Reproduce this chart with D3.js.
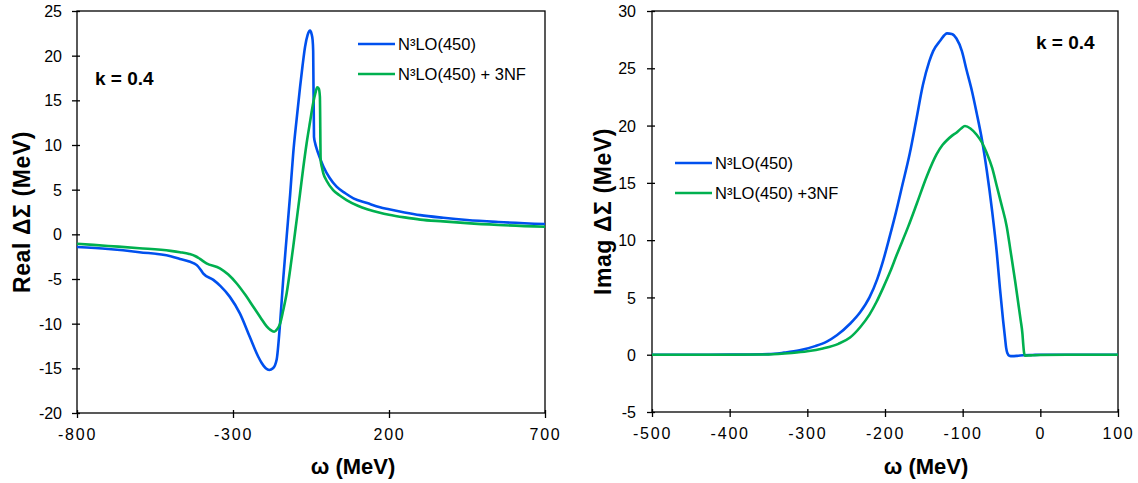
<!DOCTYPE html>
<html>
<head>
<meta charset="utf-8">
<script src="https://cdn.jsdelivr.net/npm/d3@7"></script>
<style>
  html, body { margin: 0; padding: 0; background: #fff; }
  svg { display: block; font-family: "Liberation Sans", Arial, sans-serif; }
</style>
</head>
<body>
<svg id="chart" width="1138" height="483"></svg>
<script>
// ---- Real part of the self-energy difference, k = 0.4 ----
const realOmega = [-800, -700, -600, -500, -470, -440, -416, -405, -395, -363, -340, -310, -278, -246, -219, -208, -195, -184, -172, -160, -149, -139, -128, -117, -107, -96, -85, -77, -69, -61, -53, -48, -45, -43, -40.4, -36, -32, -22, -10, 10, 32, 60, 86, 130, 171, 200, 250, 300, 374, 450, 550, 700];
const realBlue = [-1.42, -1.65, -2.0, -2.45, -2.75, -3.05, -3.45, -3.9, -4.4, -5.1, -5.8, -7.0, -8.85, -11.5, -13.7, -14.4, -15.0, -15.19, -15.0, -14.0, -9.9, -5.0, -0.27, 4.4, 9.07, 12.9, 16.5, 18.9, 21.0, 22.3, 22.8, 22.4, 21.8, 20.5, 10.9, 10.1, 9.6, 8.6, 7.57, 6.3, 5.33, 4.6, 4.03, 3.5, 3.02, 2.8, 2.45, 2.15, 1.85, 1.6, 1.38, 1.15];

const realOmega3NF = [-800, -700, -600, -500, -470, -440, -420, -406, -385, -342, -315, -288, -260, -235, -212, -192, -180, -168, -158, -149, -139, -128, -117, -107, -96, -85, -75, -64, -53, -43, -36, -30, -25, -21.5, -19, -15, -10.5, 0, 21, 40, 64, 100, 171, 200, 250, 300, 374, 450, 550, 700];
const real3NF = [-1.05, -1.3, -1.55, -1.85, -2.0, -2.2, -2.45, -2.75, -3.25, -3.8, -4.5, -5.5, -6.8, -8.1, -9.3, -10.3, -10.7, -10.9, -10.6, -10.0, -8.5, -6.6, -4.0, -1.4, 1.6, 4.6, 7.4, 10.2, 12.6, 14.7, 15.8, 16.45, 16.3, 15.4, 8.3, 7.5, 6.83, 6.0, 4.96, 4.4, 3.84, 3.2, 2.42, 2.2, 1.9, 1.65, 1.45, 1.25, 1.05, 0.85];

// ---- Imaginary part of the self-energy difference, k = 0.4 ----
const imagOmega = [-500, -450, -400, -350, -330, -310, -290, -275, -262, -245, -232, -220, -210, -202, -194, -186, -178, -168, -160, -151, -143, -138, -129, -120, -114, -108, -101, -95, -88, -82, -75, -69, -62, -56, -52, -48, -45.5, -44, -42.5, -40, -36, -30, -22, -10, 0, 50, 100];
const imagBlue = [0, 0, 0.01, 0.05, 0.18, 0.38, 0.75, 1.15, 1.7, 2.7, 3.7, 5.0, 6.6, 8.3, 10.3, 12.4, 14.7, 17.6, 20.4, 23.6, 25.6, 26.5, 27.4, 28.05, 28.0, 27.6, 26.5, 24.85, 23.0, 21.1, 18.7, 16.1, 12.5, 8.85, 5.8, 3.03, 1.5, 0.6, 0.15, -0.08, -0.12, -0.1, -0.05, -0.02, 0, 0, 0];

const imagOmega3NF = [-500, -450, -400, -350, -320, -300, -280, -260, -245, -232, -220, -211, -202, -193, -185, -170, -159, -146, -133.5, -126, -120.6, -114, -107.7, -102, -97, -90, -82, -75, -69, -62, -56, -50, -43.3, -38, -32.6, -28, -25.3, -23, -22, -21, -20, -15, -10, 0, 50, 100];
const imag3NF = [0, 0, 0, 0.02, 0.15, 0.3, 0.55, 0.95, 1.5, 2.4, 3.5, 4.6, 5.9, 7.3, 8.7, 11.2, 13.2, 15.6, 17.5, 18.3, 18.7, 19.1, 19.4, 19.75, 19.96, 19.75, 19.2, 18.5, 17.6, 16.3, 14.7, 13.1, 11.2, 8.9, 6.5, 4.3, 3.0, 1.8, 0.9, 0.2, -0.08, -0.07, -0.05, -0.02, 0, 0];

// ---- Axis ticks ----
const realXTicks = [-800, -300, 200, 700];
const realYTicks = [-20, -15, -10, -5, 0, 5, 10, 15, 20, 25];
const imagXTicks = [-500, -400, -300, -200, -100, 0, 100];
const imagYTicks = [-5, 0, 5, 10, 15, 20, 25, 30];

// ---- Series labels ----
const seriesNames = ["N³LO(450)", "N³LO(450) + 3NF"];
const seriesNamesImag = ["N³LO(450)", "N³LO(450) +3NF"];
const seriesColors = ["#0050EE", "#00B04F"];

const svg = d3.select("#chart");
const plainNumber = d => String(d);   // ASCII hyphen for negatives

function drawPanel(cfg) {
  const g = svg.append("g");
  const x = d3.scaleLinear().domain(cfg.xDomain).range([cfg.left, cfg.right]);
  const y = d3.scaleLinear().domain(cfg.yDomain).range([cfg.bottom, cfg.top]);

  // frame
  g.append("rect")
    .attr("x", cfg.left).attr("y", cfg.top)
    .attr("width", cfg.right - cfg.left).attr("height", cfg.bottom - cfg.top)
    .attr("fill", "none").attr("stroke", "#000").attr("stroke-width", 1.3);

  // x axis ticks + labels
  const xAxis = d3.axisBottom(x).tickValues(cfg.xTicks).tickFormat(plainNumber).tickSize(0).tickPadding(0);
  const gx = g.append("g").attr("transform", `translate(0,${cfg.bottom})`).call(xAxis);
  gx.select(".domain").remove();
  gx.selectAll(".tick line").remove();
  gx.selectAll(".tick").append("line")
    .attr("y1", -3).attr("y2", 5).attr("stroke", "#000").attr("stroke-width", 1.3);
  gx.selectAll(".tick text")
    .attr("y", 27).attr("dy", null)
    .attr("font-size", 16).attr("letter-spacing", "1.8px")
    .attr("fill", "#000").attr("font-family", "Liberation Sans, Arial, sans-serif");

  // y axis ticks + labels
  const yAxis = d3.axisLeft(y).tickValues(cfg.yTicks).tickFormat(plainNumber).tickSize(0).tickPadding(0);
  const gy = g.append("g").attr("transform", `translate(${cfg.left},0)`).call(yAxis);
  gy.select(".domain").remove();
  gy.selectAll(".tick line").remove();
  gy.selectAll(".tick").append("line")
    .attr("x1", -5).attr("x2", 3).attr("stroke", "#000").attr("stroke-width", 1.3);
  gy.selectAll(".tick text")
    .attr("x", -cfg.yLabelGap).attr("dy", "0.35em")
    .attr("font-size", 16).attr("fill", "#000")
    .attr("font-family", "Liberation Sans, Arial, sans-serif");

  // axis titles
  g.append("text")
    .attr("x", cfg.xTitleX).attr("y", 474)
    .attr("text-anchor", "middle").attr("font-weight", "bold").attr("font-size", 22)
    .text("ω (MeV)");
  g.append("text")
    .attr("transform", `translate(${cfg.yTitleX},${(cfg.top + cfg.bottom) / 2}) rotate(-90)`)
    .attr("text-anchor", "middle").attr("font-weight", "bold").attr("font-size", 23)
    .attr("letter-spacing", "0.6px")
    .text(cfg.yTitle);

  // curves
  const line = d3.line()
    .x(d => x(d[0])).y(d => y(d[1]))
    .curve(d3.curveMonotoneX);
  cfg.series.forEach((s, i) => {
    g.append("path")
      .datum(d3.zip(s.omega, s.values))
      .attr("fill", "none").attr("stroke", seriesColors[i])
      .attr("stroke-width", 2.6).attr("stroke-linejoin", "round")
      .attr("d", line);
  });

  // legend
  cfg.legendNames.forEach((name, i) => {
    const ly = cfg.legendY + i * 30;
    g.append("line")
      .attr("x1", cfg.legendX).attr("x2", cfg.legendX + 37)
      .attr("y1", ly).attr("y2", ly)
      .attr("stroke", seriesColors[i]).attr("stroke-width", 2.6);
    g.append("text")
      .attr("x", cfg.legendX + 40).attr("y", ly).attr("dy", "0.35em")
      .attr("font-size", 16.5).attr("fill", "#000")
      .text(name);
  });

  // k label
  g.append("text")
    .attr("x", cfg.kX).attr("y", cfg.kY)
    .attr("font-weight", "bold").attr("font-size", 19).attr("fill", "#000")
    .text("k = 0.4");
}

drawPanel({
  left: 77, right: 545, top: 11, bottom: 413,
  xDomain: [-800, 700], yDomain: [-20, 25],
  xTicks: realXTicks, yTicks: realYTicks, yLabelGap: 15,
  xTitleX: 353, yTitleX: 30, yTitle: "Real ΔΣ (MeV)",
  series: [{omega: realOmega, values: realBlue}, {omega: realOmega3NF, values: real3NF}],
  legendNames: seriesNames, legendX: 358, legendY: 44,
  kX: 95, kY: 85
});

drawPanel({
  left: 652, right: 1118, top: 11, bottom: 412,
  xDomain: [-500, 100], yDomain: [-5, 30],
  xTicks: imagXTicks, yTicks: imagYTicks, yLabelGap: 16,
  xTitleX: 926, yTitleX: 611, yTitle: "Imag ΔΣ (MeV)",
  series: [{omega: imagOmega, values: imagBlue}, {omega: imagOmega3NF, values: imag3NF}],
  legendNames: seriesNamesImag, legendX: 675, legendY: 163,
  kX: 1036, kY: 49
});
</script>
</body>
</html>
